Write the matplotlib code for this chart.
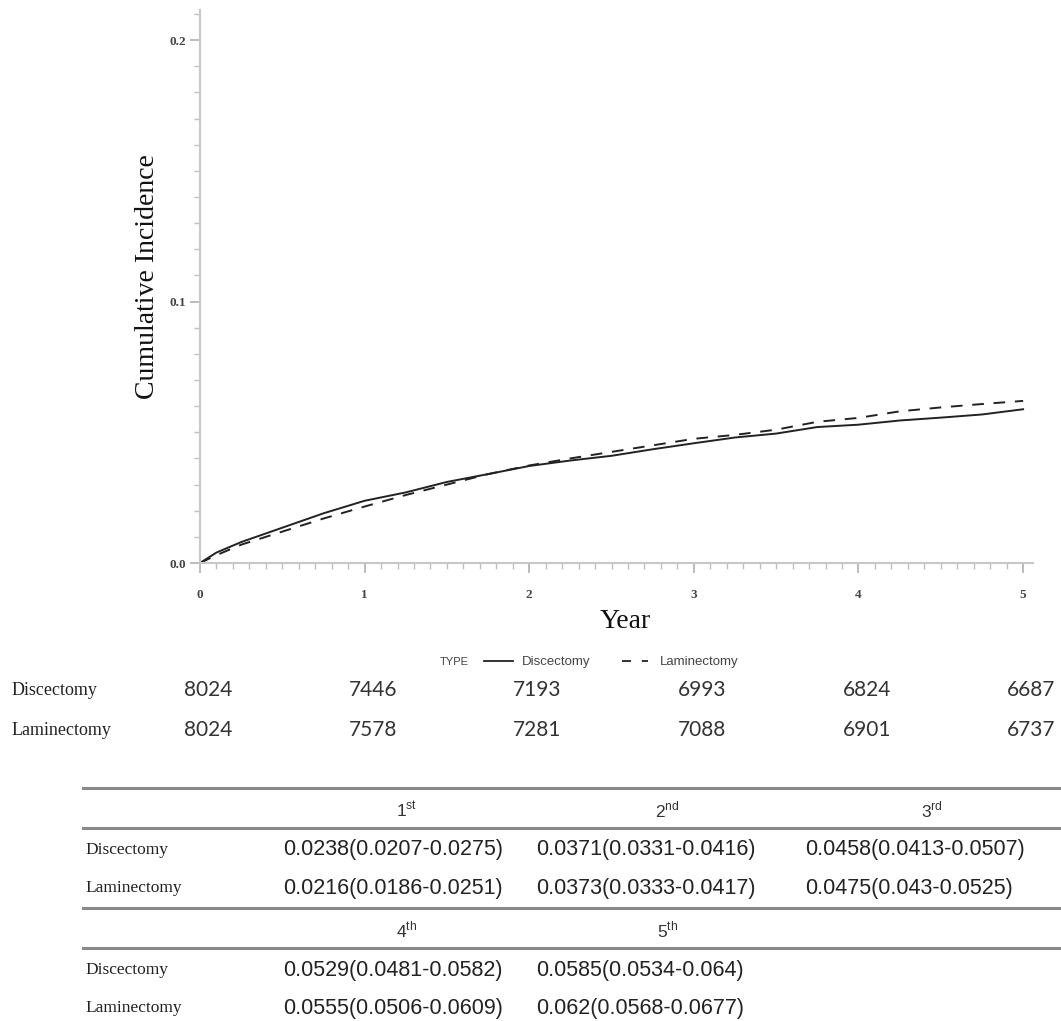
import matplotlib
matplotlib.use("Agg")
import matplotlib.pyplot as plt
from matplotlib.ticker import MultipleLocator
import matplotlib.transforms as mtransforms

plt.rcParams['mathtext.fontset'] = 'custom'
plt.rcParams['mathtext.rm'] = 'Liberation Sans'

# ---- data ----
years = [0, 0.1, 0.25, 0.5, 0.75, 1, 1.25, 1.5, 1.75, 2, 2.25, 2.5, 2.75, 3,
         3.25, 3.5, 3.75, 4, 4.25, 4.5, 4.75, 5]
disc_ci = [0, 0.004, 0.008, 0.0135, 0.019, 0.0238, 0.027, 0.031, 0.034, 0.0371,
           0.0392, 0.041, 0.0435, 0.0458, 0.048, 0.0495, 0.052, 0.0529, 0.0545,
           0.0556, 0.0568, 0.0588]
lam_ci = [0, 0.003, 0.007, 0.012, 0.017, 0.0216, 0.026, 0.030, 0.034, 0.0373,
          0.040, 0.0425, 0.045, 0.0475, 0.049, 0.051, 0.054, 0.0555, 0.058,
          0.0595, 0.0608, 0.062]

risk_years = [0, 1, 2, 3, 4, 5]
disc_risk = [8024, 7446, 7193, 6993, 6824, 6687]
lam_risk = [8024, 7578, 7281, 7088, 6901, 6737]

groups = ["Discectomy", "Laminectomy"]
headers_1 = ["1st", "2nd", "3rd"]
headers_2 = ["4th", "5th"]
disc_est = ["0.0238(0.0207-0.0275)", "0.0371(0.0331-0.0416)", "0.0458(0.0413-0.0507)",
            "0.0529(0.0481-0.0582)", "0.0585(0.0534-0.064)"]
lam_est = ["0.0216(0.0186-0.0251)", "0.0373(0.0333-0.0417)", "0.0475(0.043-0.0525)",
           "0.0555(0.0506-0.0609)", "0.062(0.0568-0.0677)"]

W, H = 1061, 1021
fig = plt.figure(figsize=(W / 100, H / 100), dpi=100)

def fy(y):
    return 1 - y / H

def fx(x):
    return x / W

ax = fig.add_axes([fx(200), fy(563), fx(1033) - fx(200), fy(10) - fy(563)])
ax.plot(years, disc_ci, color='#222222', lw=1.4, ls='-', label='Discectomy')
ax.plot(years, lam_ci, color='#222222', lw=1.4, ls=(0, (6, 5)), label='Laminectomy')
ax.set_xlim(0, 5.06)
ax.set_ylim(0, 0.2115)
for s in ['top', 'right']:
    ax.spines[s].set_visible(False)
for s in ['left', 'bottom']:
    ax.spines[s].set_color('#c8c8c8')
    ax.spines[s].set_linewidth(1.5)
ax.xaxis.set_major_locator(MultipleLocator(1))
ax.xaxis.set_minor_locator(MultipleLocator(0.1))
ax.yaxis.set_major_locator(MultipleLocator(0.1))
ax.yaxis.set_minor_locator(MultipleLocator(0.01))
ax.set_xticklabels([], minor=True)
ax.tick_params(which='major', length=7, width=1.2, color='#b0b0b0',
               labelsize=9.5, labelcolor='#444444', pad=12)
ax.tick_params(which='minor', length=4, width=1.0, color='#c0c0c0')
ax.set_xticks(risk_years)
ax.set_xticklabels([str(v) for v in risk_years], family='Liberation Serif', fontweight='bold')
ax.set_yticks([0.0, 0.1, 0.2])
ax.set_yticklabels(['0.0', '0.1', '0.2'], family='Liberation Serif', fontweight='bold')
ax.tick_params(axis='y', pad=3)

fig.text(fx(148), fy(277), 'Cumulative Incidence', rotation=90, ha='center', va='center',
         family='Liberation Serif', fontsize=20, color='#111111')
fig.text(fx(625), fy(622), 'Year', ha='center', va='center',
         family='Liberation Serif', fontsize=20, color='#111111')

# legend
fig.text(fx(440), fy(662), 'TYPE', ha='left', va='center', family='Liberation Sans',
         fontsize=8, color='#444444')
fig.add_artist(plt.Line2D([fx(484), fx(513)], [fy(661), fy(661)], color='#222222', lw=1.3))
fig.text(fx(522), fy(662), 'Discectomy', ha='left', va='center', family='Liberation Sans',
         fontsize=9.5, color='#444444')
fig.add_artist(plt.Line2D([fx(622), fx(648)], [fy(661), fy(661)], color='#222222', lw=1.3,
                          ls=(0, (5, 6))))
fig.text(fx(660), fy(662), 'Laminectomy', ha='left', va='center', family='Liberation Sans',
         fontsize=9.5, color='#444444')

# number at risk
blend = mtransforms.blended_transform_factory(ax.transData, fig.transFigure)
for row_y, name, vals in [(690, groups[0], disc_risk), (730, groups[1], lam_risk)]:
    fig.text(fx(12), fy(row_y), name, ha='left', va='center', family='Liberation Serif',
             fontsize=13, color='#222222')
    for yr, v in zip(risk_years, vals):
        fig.text(yr + 0.05, fy(row_y), str(v), transform=blend, ha='center', va='center',
                 family='Lato', fontsize=15, color='#333333')

# estimates table
x0, xr = 83, 1061
col_b = [280, 533, 802, 1061]
line_c = '#8a8a8a'

def hline(y):
    fig.add_artist(plt.Line2D([fx(x0), fx(xr)], [fy(y), fy(y)], color=line_c, lw=2.2))

def block(y_top, headers, est_d, est_l):
    hline(y_top)
    hline(y_top + 40)
    for i, h in enumerate(headers):
        num, suf = h[0], h[1:]
        cx = (col_b[i] + col_b[i + 1]) / 2
        fig.text(fx(cx), fy(y_top + 22), num + r'$^{\mathrm{' + suf + '}}$', ha='center',
                 va='center', family='Liberation Sans', fontsize=12.5, color='#333333')
    for row_off, name, ests in [(62, groups[0], est_d), (100, groups[1], est_l)]:
        fig.text(fx(85), fy(y_top + row_off), name, ha='left', va='center',
                 family='Liberation Serif', fontsize=12.5, color='#222222')
        for i, e in enumerate(ests):
            fig.text(fx(col_b[i] + 3), fy(y_top + row_off), e, ha='left', va='center',
                     family='Liberation Sans', fontsize=15.5, color='#222222')

block(788, headers_1, disc_est[:3], lam_est[:3])
block(908, headers_2, disc_est[3:], lam_est[3:])

fig.savefig('out.png', dpi=100)
